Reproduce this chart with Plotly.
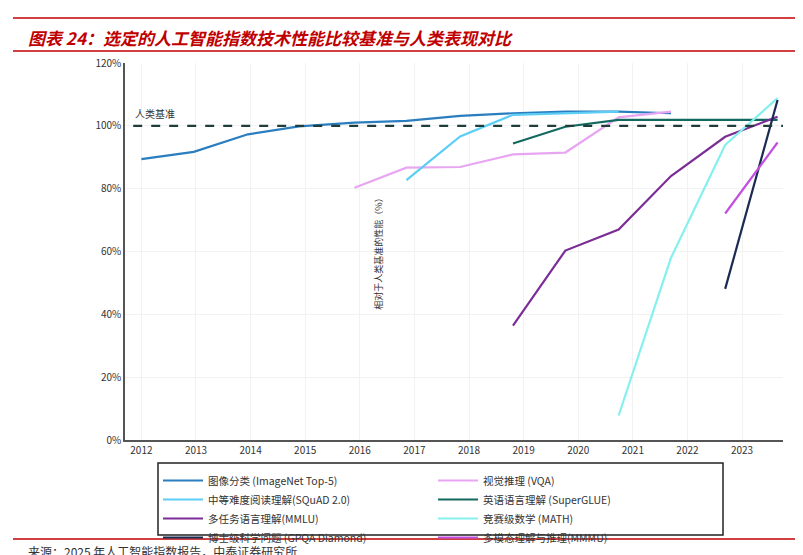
import plotly.graph_objects as go

def yr(zx):
    return 2012 + (zx - 75) / 123.0

X11 = [yr(v) for v in [75,193,315,430,555,672,793,912,1030,1150,1268,1390,1508]]

names = ["图像分类 (ImageNet Top-5)", "视觉推理 (VQA)", "中等难度阅读理解(SQuAD 2.0)",
         "英语语言理解 (SuperGLUE)", "多任务语言理解(MMLU)", "竞赛级数学 (MATH)",
         "博士级科学问题 (GPQA Diamond)", "多模态理解与推理(MMMU)"]
colors = ["#2a7ec0", "#e8a6f2", "#5ccdf5", "#13695f", "#7b2d96", "#86f0ee", "#1b2a52", "#c24fe0"]

imagenet_idx = list(range(0, 11)); imagenet = [89.4, 91.7, 97.3, 99.8, 101, 101.6, 103.2, 104, 104.5, 104.5, 104]
vqa_idx = list(range(4, 11));      vqa = [80.3, 86.7, 86.9, 90.9, 91.5, 102.7, 104.5]
squad_idx = list(range(5, 10));    squad = [82.7, 96.6, 103.5, 104, 104.5]
sglue_idx = list(range(7, 13));    sglue = [94.4, 99.7, 101.9, 101.9, 101.9, 101.9]
mmlu_idx = list(range(7, 13));     mmlu = [36.4, 60.3, 67, 84, 96.5, 102.9]
math_idx = list(range(9, 13));     math_ = [7.8, 58, 93.9, 108.8]
gpqa_idx = [11, 12];               gpqa = [48.1, 108.2]
mmmu_idx = [11, 12];               mmmu = [72.1, 94.7]

series = [(imagenet_idx, imagenet), (vqa_idx, vqa), (squad_idx, squad), (sglue_idx, sglue),
          (mmlu_idx, mmlu), (math_idx, math_), (gpqa_idx, gpqa), (mmmu_idx, mmmu)]

yticks = [0, 20, 40, 60, 80, 100, 120]
ytext = [f"{v}%" for v in yticks]

fig = go.Figure()
for k, ((idx, vals), n, c) in enumerate(zip(series, names, colors)):
    fig.add_trace(go.Scatter(x=[X11[i] for i in idx], y=vals, mode="lines", name=n,
                             line=dict(color=c, width=2.2),
                             legend="legend" if k % 2 == 0 else "legend2"))

fig.add_shape(type="line", xref="x", yref="y", x0=2011.85, x1=2023.75, y0=100, y1=100,
              line=dict(color="#1f3d3a", width=2.2, dash="dash"))
fig.add_annotation(x=2011.85, y=100, xanchor="left", yanchor="bottom", yshift=3,
                   text="人类基准", showarrow=False, font=dict(size=10, color="#333"))
fig.add_annotation(x=2024, y=0, xref="x", yref="y", yshift=-13, text="2024", showarrow=False,
                   font=dict(size=10, color="#333"))

def px(p): return (p - 117) / 658
def py(p): return (432 - p) / 377

font = "Noto Sans CJK SC"
leg = dict(yref="container", y=(555 - 458) / 555, yanchor="top", xref="container", xanchor="left",
           bgcolor="rgba(0,0,0,0)", font=dict(size=10.5), tracegroupgap=0, itemwidth=40)
fig.update_layout(
    width=803, height=555, paper_bgcolor="white", plot_bgcolor="white",
    margin=dict(l=117, r=28, t=55, b=123, autoexpand=False),
    font=dict(family=font, size=10, color="#333"),
    xaxis=dict(range=[2011.7, 2023.75], tickvals=list(range(2012, 2024)), showgrid=True,
               gridcolor="#f2f2f2", showline=True, linecolor="#555", linewidth=1.5,
               tickfont=dict(size=10), zeroline=False, automargin=False),
    yaxis=dict(range=[0, 120], tickvals=yticks, ticktext=ytext,
               showgrid=True, gridcolor="#f2f2f2", showline=True, linecolor="#555", linewidth=1.5,
               zeroline=False, tickfont=dict(size=10), automargin=False,
               title=dict(text="相对于人类基准的性能（%）", font=dict(size=9), standoff=38)),
    legend=dict(leg, x=150 / 803),
    legend2=dict(leg, x=425 / 803),
    showlegend=True,
)
fig.add_shape(type="rect", xref="paper", yref="paper", x0=px(150), x1=px(715), y0=py(527), y1=py(455),
              line=dict(color="#222", width=1.5))
fig.add_annotation(xref="paper", yref="paper", x=px(18), y=py(29), xanchor="left", yanchor="middle",
                   text="<b><i>图表 24：选定的人工智能指数技术性能比较基准与人类表现对比</i></b>",
                   showarrow=False, font=dict(size=17, color="#c00000"))
fig.add_annotation(xref="paper", yref="paper", x=px(18), y=py(543), xanchor="left", yanchor="middle",
                   text="来源：2025 年人工智能指数报告，中泰证券研究所",
                   showarrow=False, font=dict(size=12, color="#333"))
for yy in [10, 43, 531]:
    fig.add_shape(type="line", xref="paper", yref="paper", x0=px(5), x1=px(800),
                  y0=py(yy), y1=py(yy), line=dict(color="#c00000", width=1.5))

fig.write_html("out.html")
